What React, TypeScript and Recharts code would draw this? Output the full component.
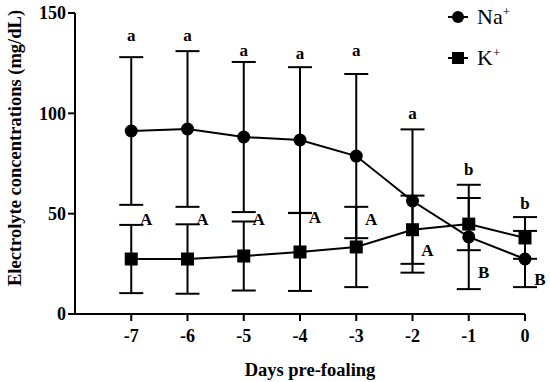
import { ComposedChart, Line, Scatter, XAxis, YAxis, ErrorBar, Legend, Label } from 'recharts';

const FONT = '"Liberation Serif", "DejaVu Serif", serif';

const days = [-7, -6, -5, -4, -3, -2, -1, 0];
const naMean = [91.2, 92.2, 88.2, 86.7, 78.7, 56.3, 38.4, 27.4];
const naSd = [36.8, 38.8, 37.4, 36.3, 40.9, 35.7, 26, 14];
const kMean = [27.4, 27.4, 28.9, 30.9, 33.4, 42, 44.8, 37.9];
const kSd = [17, 17.3, 17.2, 19.4, 20, 17, 13, 10.4];

// significance letters and the height (mg/dL) where each one sits
const naLetters = ['a', 'a', 'a', 'a', 'a', 'a', 'b', 'b'];
const naLetterAt = [139, 139, 131.5, 130, 131.5, 100, 72, 55.3];
const kLetters = ['A', 'A', 'A', 'A', 'A', 'A', 'B', 'B'];
const kLetterAt = [47.3, 47.3, 47.3, 48.3, 47.3, 31.9, 20.9, 17.4];

const yTicks = [0, 50, 100, 150];

const data = days.map((day, i) => ({
    day,
    na: naMean[i],
    naSd: naSd[i],
    k: kMean[i],
    kSd: kSd[i],
}));

const naLetterData = days.map((day, i) => ({ day, pos: naLetterAt[i], text: naLetters[i] }));
const kLetterData = days.map((day, i) => ({ day, pos: kLetterAt[i], text: kLetters[i] }));

const letterShape = (dx: number) => (props: any) => (
    <text
        x={props.cx + dx}
        y={props.cy}
        dy="0.35em"
        textAnchor="middle"
        fontFamily={FONT}
        fontWeight={700}
        fontSize={17}
        fill="#000"
    >
        {props.payload.text}
    </text>
);

const SquareDot = (props: any) => {
    const { cx, cy, index } = props;
    return <rect key={`sq-${index}`} x={cx - 6.5} y={cy - 6.5} width={13} height={13} fill="#000" />;
};

const LegendBox = () => {
    const items = [
        { name: 'Na', marker: 'circle' },
        { name: 'K', marker: 'square' },
    ];
    return (
        <div style={{ fontFamily: FONT }}>
            {items.map((it) => (
                <div key={it.name} style={{ display: 'flex', alignItems: 'center', height: 41 }}>
                    <svg width={22} height={16} style={{ marginRight: 8 }}>
                        <line x1={1} y1={8} x2={21} y2={8} stroke="#000" strokeWidth={2} />
                        {it.marker === 'circle' ? (
                            <circle cx={11} cy={8} r={6} fill="#000" />
                        ) : (
                            <rect x={5} y={2} width={12} height={12} fill="#000" />
                        )}
                    </svg>
                    <span style={{ fontSize: 22, color: '#000', lineHeight: 1 }}>
                        {it.name}
                        <sup style={{ fontSize: 13 }}>+</sup>
                    </span>
                </div>
            ))}
        </div>
    );
};

export default function App() {
    return (
        <div style={{ position: 'absolute', left: 0, top: 0, background: '#fff' }}>
            <ComposedChart width={550} height={382} data={data} margin={{ top: 13, right: 25, left: 2, bottom: 0 }}>
                <XAxis
                    dataKey="day"
                    type="number"
                    domain={[-8, 0]}
                    ticks={days}
                    height={68}
                    axisLine={{ stroke: '#000', strokeWidth: 2 }}
                    tickLine={{ stroke: '#000', strokeWidth: 2 }}
                    tickSize={7}
                    tickMargin={8}
                    tick={{ fill: '#000', fontSize: 18, fontWeight: 700, fontFamily: FONT }}
                >
                    <Label
                        content={() => (
                            <text x={310} y={370} dy="0.35em" textAnchor="middle" fontFamily={FONT} fontWeight={700} fontSize={18.5} fill="#000">
                                Days pre-foaling
                            </text>
                        )}
                    />
                </XAxis>
                <YAxis
                    type="number"
                    domain={[0, 150]}
                    ticks={yTicks}
                    width={73}
                    axisLine={{ stroke: '#000', strokeWidth: 2 }}
                    tickLine={{ stroke: '#000', strokeWidth: 2 }}
                    tickSize={7}
                    tickMargin={2}
                    tick={{ fill: '#000', fontSize: 18, fontWeight: 700, fontFamily: FONT }}
                >
                    <Label
                        content={() => (
                            <text
                                x={15}
                                y={148}
                                dy="0.35em"
                                textAnchor="middle"
                                transform="rotate(-90, 15, 148)"
                                fontFamily={FONT}
                                fontWeight={700}
                                fontSize={18.5}
                                fill="#000"
                            >
                                Electrolyte concentrations (mg/dL)
                            </text>
                        )}
                    />
                </YAxis>
                <Legend
                    layout="vertical"
                    align="center"
                    verticalAlign="middle"
                    wrapperStyle={{ position: 'absolute', left: 447, top: -4, width: 100 }}
                    content={() => <LegendBox />}
                />
                <Line
                    dataKey="na"
                    name="Na"
                    stroke="#000"
                    strokeWidth={2}
                    dot={{ r: 6.5, fill: '#000', stroke: '#000', strokeWidth: 0 }}
                    activeDot={false}
                    isAnimationActive={false}
                >
                    <ErrorBar dataKey="naSd" direction="y" width={12} stroke="#000" strokeWidth={2} />
                </Line>
                <Line
                    dataKey="k"
                    name="K"
                    stroke="#000"
                    strokeWidth={2}
                    dot={SquareDot}
                    activeDot={false}
                    isAnimationActive={false}
                >
                    <ErrorBar dataKey="kSd" direction="y" width={12} stroke="#000" strokeWidth={2} />
                </Line>
                <Scatter
                    data={naLetterData}
                    dataKey="pos"
                    legendType="none"
                    shape={letterShape(0)}
                    isAnimationActive={false}
                />
                <Scatter
                    data={kLetterData}
                    dataKey="pos"
                    legendType="none"
                    shape={letterShape(15)}
                    isAnimationActive={false}
                />
            </ComposedChart>
        </div>
    );
}
